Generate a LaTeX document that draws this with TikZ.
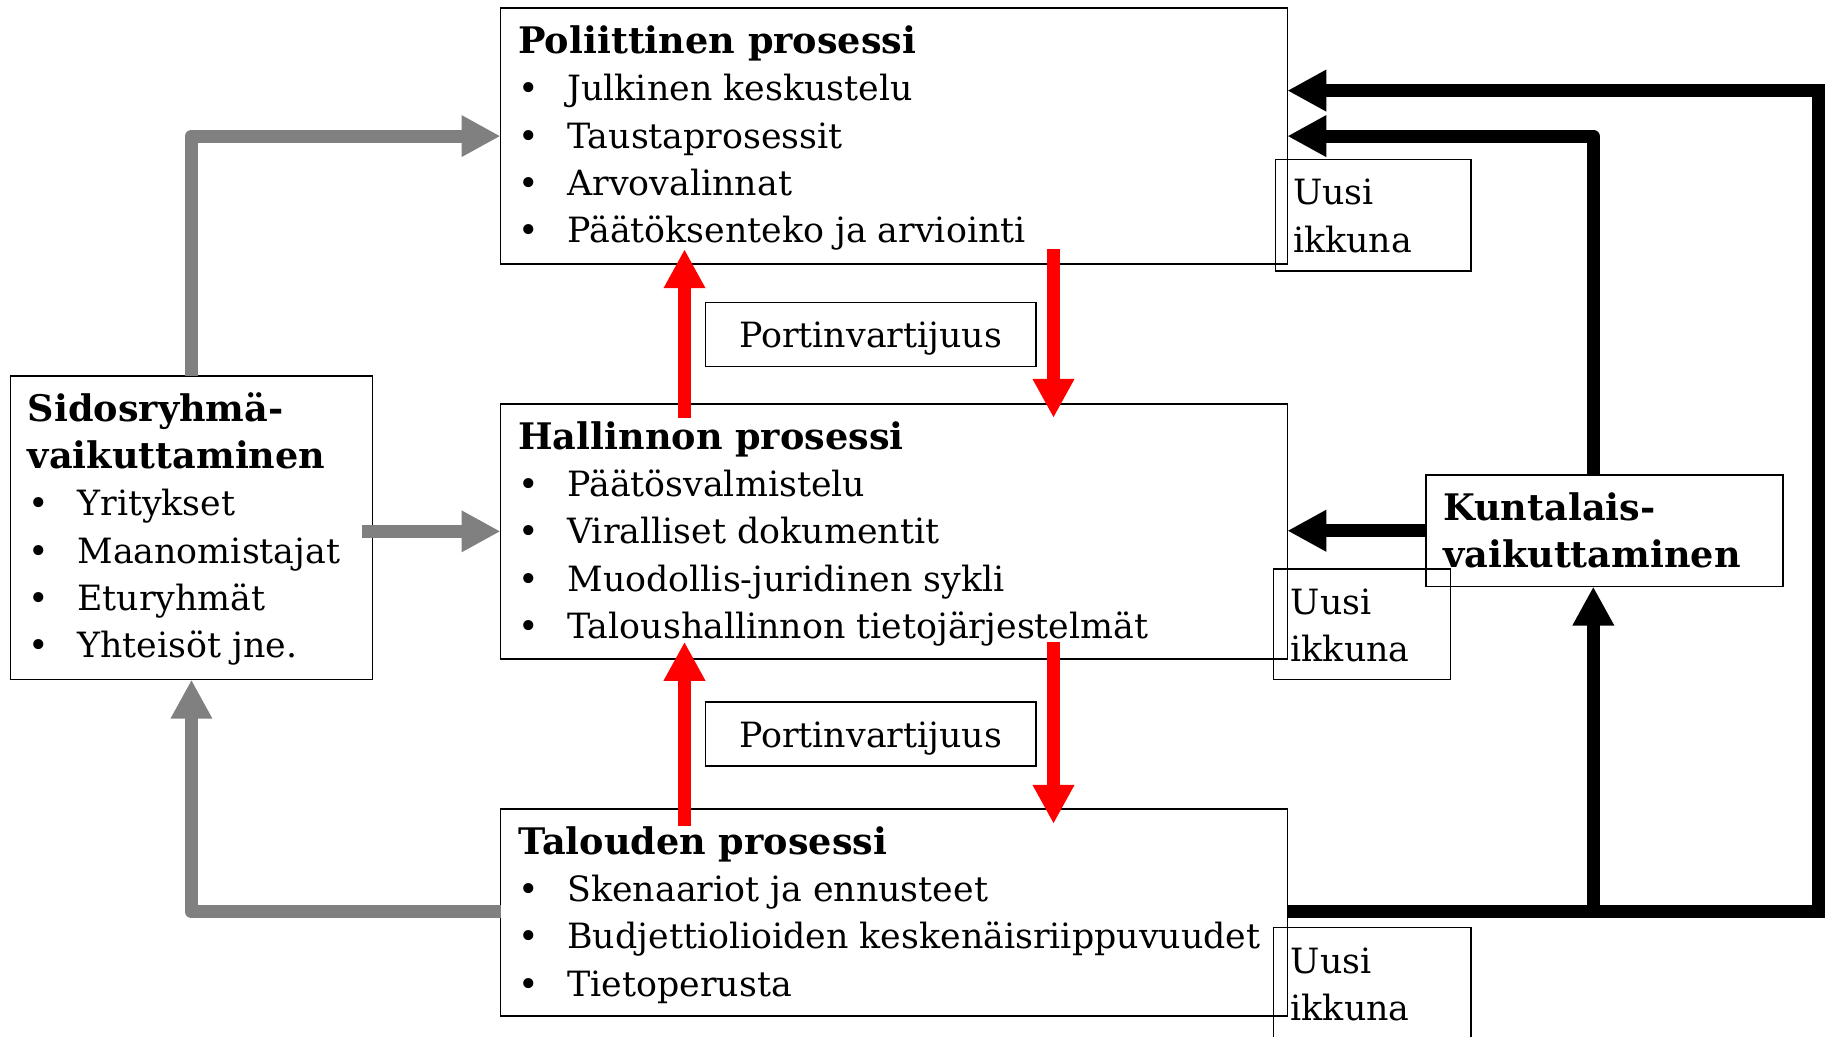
\documentclass[tikz,border=0pt]{standalone}
\usepackage{fontspec}
\setmainfont{DejaVu Serif}
\usetikzlibrary{arrows.meta,calc}
\definecolor{arrowgray}{RGB}{128,128,128}
\definecolor{arrowred}{RGB}{255,0,0}
\newcommand\regfont{\fontsize{17.4pt}{23.65pt}\selectfont}
\newcommand\boldfont{\fontsize{18.3pt}{23.65pt}\selectfont\bfseries}
\tikzset{
  box/.style={draw, line width=0.75pt, inner sep=0pt, outer sep=0pt, anchor=north west},
  ttl/.style={anchor=base west, inner sep=0pt, font=\boldfont},
  itm/.style={anchor=base west, inner sep=0pt, font=\regfont},
  lbl/.style={anchor=base, inner sep=0pt, font=\regfont},
  tip/.style={-{Triangle[length=19.5pt,width=19.5pt]}},
  redarrow/.style={draw=arrowred, line width=6.5pt, tip},
  grayarrow/.style={draw=arrowgray, line width=6.5pt, line join=round, tip},
  blackarrow/.style={draw=black, line width=6.5pt, tip},
}
\newcommand\itemlines[3]{%
  \foreach \s [count=\i] in {#3} {
    \node[itm] (#1-i\i) at ($(#1.north west)+(17.5,{45.4+47.3*(\i+#2)})$)
      {\makebox[24.5pt][l]{\textbullet}\s};
  }%
}
\begin{document}
\begin{tikzpicture}[x=0.5pt,y=-0.5pt]
\useasboundingbox (0,0) rectangle (1825,1037);

% main process boxes
\node[box, minimum width=393.4pt, minimum height=128.05pt] (pol) at (500.5,8.1) {};
\node[box, minimum width=393.4pt, minimum height=127.45pt] (hal) at (500.5,403.9) {};
\node[box, minimum width=393.4pt, minimum height=103.6pt] (tal) at (500.5,808.9) {};
\node[box, minimum width=180.95pt, minimum height=151.9pt] (sid) at (10.5,375.9) {};
\node[box, minimum width=178.65pt, minimum height=55.85pt] (kun) at (1425.8,474.9) {};
\node[box, minimum width=97.8pt, minimum height=55.85pt] (uu1) at (1275.6,159.5) {};
\node[box, minimum width=88.5pt, minimum height=55.25pt] (uu2) at (1273.3,569.2) {};
\node[box, minimum width=98.95pt, minimum height=56pt] (uu3) at (1273.3,927.6) {};
\node[box, minimum width=165.3pt, minimum height=32pt] (po1) at (705.3,302.6) {};
\node[box, minimum width=165.3pt, minimum height=32pt] (po2) at (705.3,701.8) {};

% titles
\node[ttl] (pol-t) at ($(pol.north west)+(17.5,45.4)$) {Poliittinen prosessi};
\itemlines{pol}{0}{Julkinen keskustelu,Taustaprosessit,Arvovalinnat,Päätöksenteko ja arviointi}
\node[ttl] (hal-t) at ($(hal.north west)+(17.5,45.4)$) {Hallinnon prosessi};
\itemlines{hal}{0}{Päätösvalmistelu,Viralliset dokumentit,Muodollis-juridinen sykli,Taloushallinnon tietojärjestelmät}
\node[ttl] (tal-t) at ($(tal.north west)+(17.5,45.4)$) {Talouden prosessi};
\itemlines{tal}{0}{Skenaariot ja ennusteet,Budjettiolioiden keskenäisriippuvuudet,Tietoperusta}
\node[ttl] (sid-t1) at ($(sid.north west)+(17,45.4)$) {Sidosryhmä-};
\node[ttl] (sid-t2) at ($(sid.north west)+(17,92.7)$) {vaikuttaminen};
\itemlines{sid}{1}{Yritykset,Maanomistajat,Eturyhmät,Yhteisöt jne.}
\node[ttl] (kun-t1) at ($(kun.north west)+(17,45.4)$) {Kuntalais-};
\node[ttl] (kun-t2) at ($(kun.north west)+(17,92.7)$) {vaikuttaminen};

\foreach \b in {uu1,uu2,uu3} {
  \node[itm] (\b-a) at ($(\b.north west)+(17,45.4)$) {Uusi};
  \node[itm] (\b-b) at ($(\b.north west)+(17,92.7)$) {ikkuna};
}
\node[lbl] (po1-t) at ($(po1.north)+(0,45.4)$) {Portinvartijuus};
\node[lbl] (po2-t) at ($(po2.north)+(0,45.4)$) {Portinvartijuus};

% red arrows
\draw[redarrow] ($(hal.north west)+(184,14)$) -- ($(pol.south west)+(184,-15)$);
\draw[redarrow] ($(pol.south west)+(553,-15)$) -- ($(hal.north west)+(553,14)$);
\draw[redarrow] ($(tal.north west)+(184,17)$) -- ($(hal.south west)+(184,-17)$);
\draw[redarrow] ($(hal.south west)+(553,-17)$) -- ($(tal.north west)+(553,15)$);

% gray arrows
\draw[grayarrow] (sid.north) |- ($(pol.north west)+(0,128)$);
\draw[grayarrow] ($(sid.east |- hal.west)+(-10,0)$) -- (hal.west);
\draw[grayarrow] ($(tal.north west)+(0,103)$) -| (sid.south);

% black arrows
\coordinate (jn) at ($(tal.north east)+(306,103)$);
\draw[blackarrow] ($(tal.north east)+(0,103)$) -- ++(531,0) |- ($(pol.north east)+(0,82.5)$);
\draw[blackarrow] (jn) -- (jn |- kun.south);
\draw[blackarrow, line join=round] (jn |- kun.north) |- ($(pol.north east)+(0,128)$);
\draw[blackarrow] (kun.west) -- (kun.west -| hal.east);
\end{tikzpicture}
\end{document}
